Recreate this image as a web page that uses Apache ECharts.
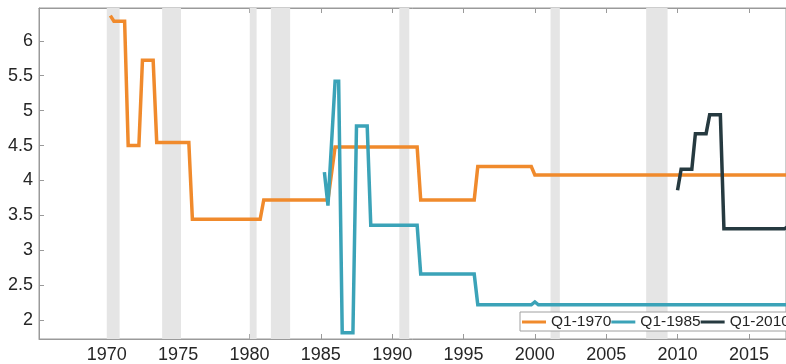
<!DOCTYPE html>
<html>
<head>
<meta charset="utf-8">
<script src="https://cdn.jsdelivr.net/npm/echarts@6/dist/echarts.min.js"></script>
<style>html,body{margin:0;padding:0;background:#fff;}#c{width:786px;height:364px;}</style>
</head>
<body>
<div id="c"></div>
<script>
// Quarterly dates (year + (quarter-1)/4) and values
const q1970 = [[1970.25,6.36],[1970.5,6.28],[1971.25,6.28],[1971.5,4.5],[1972.25,4.5],[1972.5,5.72],[1973.25,5.72],[1973.5,4.545],[1975.75,4.545],[1976.0,3.445],[1980.75,3.445],[1981.0,3.72],[1985.5,3.72],[1986.0,4.48],[1991.75,4.48],[1992.0,3.72],[1995.75,3.72],[1996.0,4.2],[1999.75,4.2],[2000.0,4.08],[2017.75,4.08]];
const q1985 = [[1985.25,4.12],[1985.5,3.64],[1986.0,5.42],[1986.25,5.42],[1986.5,1.82],[1987.25,1.82],[1987.5,4.78],[1988.25,4.78],[1988.5,3.36],[1991.75,3.36],[1992.0,2.66],[1995.75,2.66],[1996.0,2.22],[1999.75,2.22],[2000.0,2.26],[2000.25,2.22],[2017.75,2.22]];
const q2010 = [[2010.0,3.86],[2010.25,4.16],[2011.0,4.16],[2011.25,4.67],[2012.0,4.67],[2012.25,4.94],[2013.0,4.94],[2013.25,3.31],[2017.5,3.31],[2017.75,3.34]];
const recessions = [[1970.0,1970.9],[1973.88,1975.2],[1980.02,1980.5],[1981.5,1982.85],[1990.5,1991.2],[2001.1,2001.75],[2007.8,2009.3]];
const xTicks = [1970,1975,1980,1985,1990,1995,2000,2005,2010,2015];
const yTicks = [2,2.5,3,3.5,4,4.5,5,5.5,6];
const seriesNames = ['Q1-1970','Q1-1985','Q1-2010'];
const colors = ['#F08A2C','#3BA3B8','#263A40'];

const font = 'Liberation Sans, Arial, sans-serif';
const axisGray = '#9a9a9a';
const chart = echarts.init(document.getElementById('c'), null, {renderer:'canvas'});
const mk = (name, data, color, extra) => Object.assign({
  name, type:'line', data, showSymbol:false, symbol:'none', z:3,
  lineStyle:{color, width:3.5, join:'miter'}, itemStyle:{color}, animation:false, clip:true
}, extra||{});
chart.setOption({
  animation:false,
  grid:{left:39, right:0, top:8, bottom:25, show:true, borderColor:axisGray, borderWidth:1},
  xAxis:[{
    type:'value', min:1965.25, max:2017.6, position:'bottom',
    axisLine:{show:true, lineStyle:{color:axisGray}},
    axisTick:{show:true, inside:true, length:5, lineStyle:{color:axisGray}, customValues:xTicks},
    axisLabel:{color:'#262626', fontSize:18, fontFamily:font, margin:7, customValues:xTicks, formatter:v=>String(v)},
    splitLine:{show:false}
  },{
    type:'value', min:1965.25, max:2017.6, position:'top',
    axisLine:{show:true, lineStyle:{color:axisGray}},
    axisTick:{show:true, inside:true, length:5, lineStyle:{color:axisGray}, customValues:xTicks},
    axisLabel:{show:false}, splitLine:{show:false}
  }],
  yAxis:{
    type:'value', min:1.73, max:6.47,
    axisLine:{show:true, lineStyle:{color:axisGray}},
    axisTick:{show:true, inside:true, length:5, lineStyle:{color:axisGray}, customValues:yTicks},
    axisLabel:{color:'#262626', fontSize:18, fontFamily:font, margin:6, customValues:yTicks, formatter:v=>String(v)},
    splitLine:{show:false}
  },
  legend:{
    data:seriesNames, left:520, top:312, width:320, orient:'horizontal',
    padding:[2,4,1,2], itemGap:0, itemWidth:24, itemHeight:3, icon:'rect',
    backgroundColor:'#fff', borderColor:'#a0a0a0', borderWidth:1,
    textStyle:{color:'#262626', fontSize:15.5, fontFamily:font}
  },
  series:[
    mk(seriesNames[0], q1970, colors[0], {
      markArea:{silent:true, itemStyle:{color:'#E5E5E5'}, z:1,
        data: recessions.map(r=>[{xAxis:r[0], yAxis:1.73},{xAxis:r[1], yAxis:6.47}])}
    }),
    mk(seriesNames[1], q1985, colors[1]),
    mk(seriesNames[2], q2010, colors[2])
  ]
});
</script>
</body>
</html>
